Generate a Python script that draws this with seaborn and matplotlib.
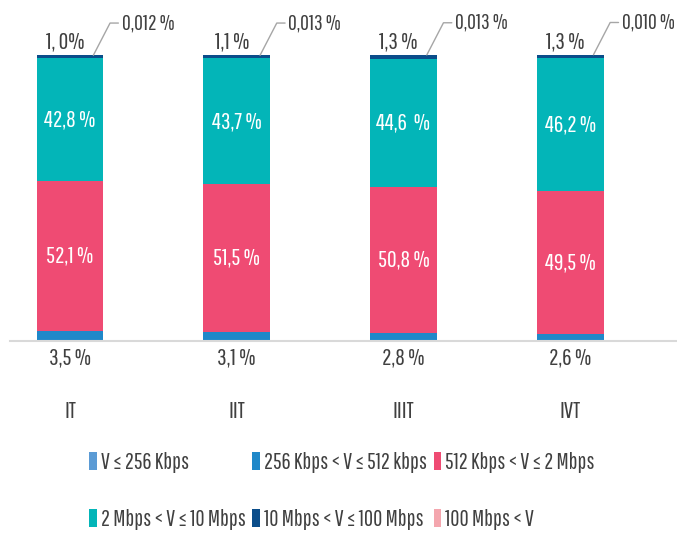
import matplotlib
matplotlib.use("Agg")
import matplotlib.pyplot as plt
import numpy as np
import pandas as pd
import seaborn as sns
from matplotlib.patches import Patch

CATEGORIES = ["IT", "IIT", "IIIT", "IVT"]
SERIES_NAMES = [
    "V ≤ 256 Kbps",
    "256 Kbps < V ≤ 512 kbps",
    "512 Kbps < V ≤ 2 Mbps",
    "2 Mbps < V ≤ 10 Mbps",
    "10 Mbps < V ≤ 100 Mbps",
    "100 Mbps < V",
]
V_256 = [0.0, 0.0, 0.0, 0.0]
V_512 = [3.5, 3.1, 2.8, 2.6]
V_2M = [52.1, 51.5, 50.8, 49.5]
V_10M = [42.8, 43.7, 44.6, 46.2]
V_100M = [1.0, 1.1, 1.3, 1.3]
V_OVER = [0.012, 0.013, 0.013, 0.010]

LBL_512 = ["3,5 %", "3,1 %", "2,8 %", "2,6 %"]
LBL_2M = ["52,1 %", "51,5 %", "50,8 %", "49,5 %"]
LBL_10M = ["42,8 %", "43,7 %", "44,6  %", "46,2 %"]
LBL_100M = ["1, 0%", "1,1 %", "1,3 %", "1,3 %"]
LBL_OVER = ["0,012 %", "0,013 %", "0,013 %", "0,010 %"]

COLORS = ["#5B9BD5", "#1F88C9", "#EF4B73", "#03B5B8", "#0B4D8A", "#F4A6AE"]

sns.set_theme(style="white")
plt.rcParams["font.family"] = ["Pathway Gothic One", "Archivo Narrow", "DejaVu Sans"]

fig = plt.figure(figsize=(6.77, 5.35), dpi=100)
ax = fig.add_axes([0.0148, 0.3626, 0.985, 0.5346])

values = np.array([V_256, V_512, V_2M, V_10M, V_100M, V_OVER])
cum = values.cumsum(axis=0)
bottoms = cum - values

# draw tallest cumulative first so smaller stacks sit on top
for i in range(len(SERIES_NAMES) - 1, -1, -1):
    df = pd.DataFrame({"cat": CATEGORIES, "val": cum[i]})
    sns.barplot(data=df, x="cat", y="val", color=COLORS[i], width=0.4,
                saturation=1, ax=ax, edgecolor="none")

ax.set_xlim(-0.36, 3.64)
ax.set_ylim(0, 99.5)
ax.set_xlabel("")
ax.set_ylabel("")
ax.set_yticks([])
ax.set_xticks([])
for s in ["top", "right", "left"]:
    ax.spines[s].set_visible(False)
ax.spines["bottom"].set_color("#d9d9d9")
ax.spines["bottom"].set_linewidth(1.5)

txt = "#404040"
fs = 17
for j, cat in enumerate(CATEGORIES):
    # inside segments
    ax.text(j, bottoms[2][j] + V_2M[j] / 2, LBL_2M[j], ha="center", va="center",
            color="white", fontsize=fs)
    ax.text(j, bottoms[3][j] + V_10M[j] / 2, LBL_10M[j], ha="center", va="center",
            color="white", fontsize=fs)
    # below axis
    ax.text(j, -5.8, LBL_512[j], ha="center", va="center", color=txt, fontsize=fs,
            clip_on=False)
    ax.text(j, -24.5, cat, ha="center", va="center", color=txt, fontsize=fs,
            clip_on=False)
    # above bar
    top = cum[-1][j]
    ax.text(j - 0.03, top + 4.6, LBL_100M[j], ha="center", va="center", color=txt,
            fontsize=fs, clip_on=False)
    ax.plot([j + 0.14, j + 0.24, j + 0.29], [top, top + 11.2, top + 11.2],
            color="#a6a6a6", lw=1, clip_on=False)
    ax.text(j + 0.31, top + 11.2, LBL_OVER[j], ha="left", va="center", color=txt,
            fontsize=15.5, clip_on=False)

# legend filled column-wise, so reorder to read row-wise like the original
order = [0, 3, 1, 4, 2, 5]
handles = [Patch(facecolor=COLORS[k], edgecolor="none") for k in order]
labels = [SERIES_NAMES[k] for k in order]
fig.legend(handles, labels, loc="center", bbox_to_anchor=(0.505, 0.082),
           ncol=3, frameon=False, fontsize=16.3, handlelength=0.35, handleheight=0.85,
           handletextpad=0.15, columnspacing=0.3, labelspacing=1.6,
           labelcolor=txt)

fig.savefig("out.png", dpi=100)
